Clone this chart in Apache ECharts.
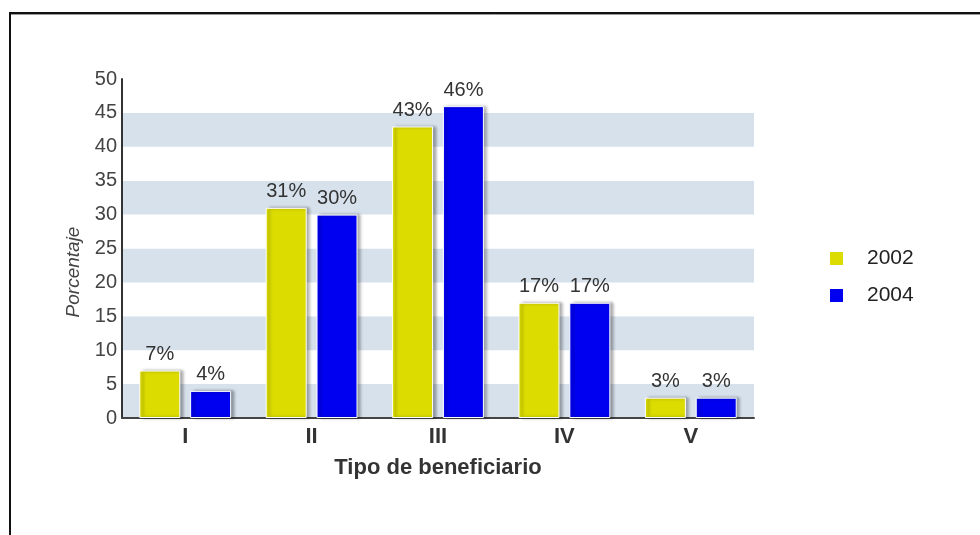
<!DOCTYPE html>
<html>
<head>
<meta charset="utf-8">
<script src="https://cdn.jsdelivr.net/npm/echarts@6/dist/echarts.min.js"></script>
<style>
html,body{margin:0;padding:0;background:#fff;}
#chart{width:980px;height:535px;}
</style>
</head>
<body>
<div id="chart"></div>
<script>
const categories = ['I', 'II', 'III', 'IV', 'V'];
const seriesNames = ['2002', '2004'];
const values2002 = [7, 31, 43, 17, 3];
const values2004 = [4, 30, 46, 17, 3];
const yTicks = [0, 5, 10, 15, 20, 25, 30, 35, 40, 45, 50];

const chart = echarts.init(document.getElementById('chart'));
const font = 'Liberation Sans, Arial, sans-serif';

function barSeries(name, data, color) {
  return {
    name: name,
    type: 'bar',
    data: data,
    barWidth: 41,
    barGap: '24%',
    itemStyle: {
      color: color,
      borderColor: '#ffffff',
      borderWidth: 1,
      shadowColor: 'rgba(0,0,0,0.35)',
      shadowBlur: 3,
      shadowOffsetX: 3,
      shadowOffsetY: 0
    },
    label: {
      show: true,
      position: 'top',
      distance: 6,
      formatter: '{c}%',
      fontFamily: font,
      fontSize: 20,
      color: '#333'
    }
  };
}

chart.setOption({
  animation: false,
  backgroundColor: '#fff',
  grid: { left: 122, right: 226, top: 79, bottom: 117 },
  legend: {
    orient: 'vertical',
    left: 828,
    top: 248,
    padding: 0,
    itemWidth: 15,
    itemHeight: 15,
    itemGap: 16,
    icon: 'rect',
    textStyle: { fontFamily: font, fontSize: 21, color: '#222', padding: [0, 0, 0, 18] },
    data: seriesNames
  },
  xAxis: {
    type: 'category',
    data: categories,
    name: 'Tipo de beneficiario',
    nameLocation: 'middle',
    nameGap: 39,
    nameTextStyle: { fontFamily: font, fontSize: 22, fontWeight: 'bold', color: '#333' },
    axisLine: { lineStyle: { color: '#444', width: 2 } },
    axisTick: { show: false },
    axisLabel: { fontFamily: font, fontSize: 22, fontWeight: 'bold', color: '#333', margin: 8 }
  },
  yAxis: {
    type: 'value',
    min: yTicks[0],
    max: yTicks[yTicks.length - 1],
    interval: 5,
    axisLine: { show: true, lineStyle: { color: '#333', width: 2 } },
    axisTick: { show: false },
    axisLabel: { fontFamily: font, fontSize: 20, color: '#444', margin: 5 },
    splitLine: { show: false },
    splitArea: { show: true, areaStyle: { color: ['#d6e1ec', '#ffffff'] } }
  },
  graphic: [
    { type: 'line', shape: { x1: 9, y1: 13, x2: 980, y2: 13 }, style: { stroke: '#111', lineWidth: 2 } },
    { type: 'line', shape: { x1: 9, y1: 14.5, x2: 980, y2: 14.5 }, style: { stroke: '#999', lineWidth: 1 } },
    { type: 'line', shape: { x1: 10, y1: 12, x2: 10, y2: 535 }, style: { stroke: '#111', lineWidth: 2 } },
    {
      type: 'text',
      rotation: Math.PI / 2,
      style: { text: 'Porcentaje', font: 'italic 19px ' + font, fill: '#444', textAlign: 'center', textVerticalAlign: 'middle' },
      position: [74, 272]
    }
  ],
  series: [
    barSeries(seriesNames[0], values2002, '#dcdc00'),
    barSeries(seriesNames[1], values2004, '#0000f0')
  ]
});
</script>
</body>
</html>
